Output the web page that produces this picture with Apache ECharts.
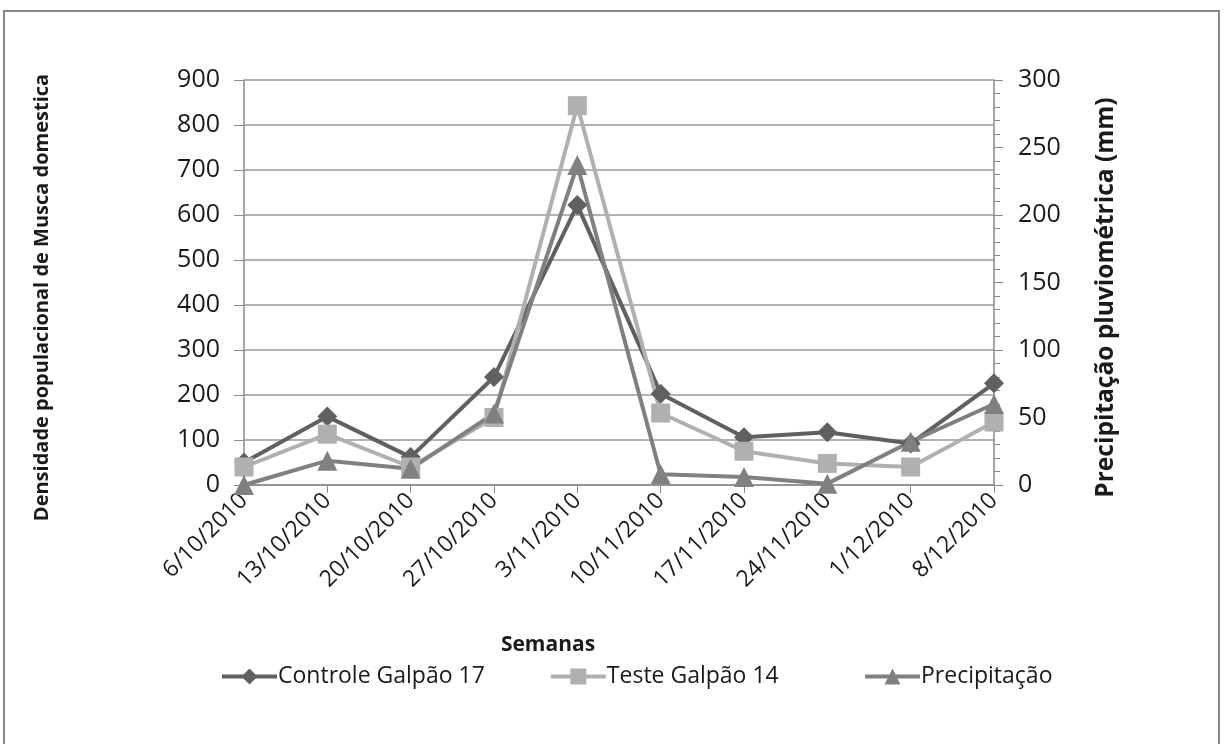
<!DOCTYPE html>
<html>
<head>
<meta charset="utf-8">
<script src="https://cdn.jsdelivr.net/npm/echarts@6/dist/echarts.min.js"></script>
<style>
html,body{margin:0;padding:0;background:#fff;}
#c{width:1224px;height:744px;}
</style>
</head>
<body>
<div id="c"></div>
<script>
const categories = ['6/10/2010','13/10/2010','20/10/2010','27/10/2010','3/11/2010','10/11/2010','17/11/2010','24/11/2010','1/12/2010','8/12/2010'];
const controle = [50, 152, 62, 240, 622, 203, 106, 117, 92, 226];
const teste = [40, 113, 40, 150, 843, 160, 75, 48, 40, 140];
const precipitacao = [0, 18, 12, 53, 237, 8, 6, 1, 32, 60];
const seriesNames = ['Controle Galpão 17', 'Teste Galpão 14', 'Precipitação'];
const leftTicks = {min: 0, max: 900, interval: 100};
const rightTicks = {min: 0, max: 300, interval: 50};

const font = '"Open Sans", "Noto Sans", sans-serif';
const legendBase = {
  top: 660, itemWidth: 55, itemHeight: 20, itemGap: 64,
  lineStyle: {width: 4},
  textStyle: {fontSize: 23, color: '#1a1a1a', fontFamily: font, padding: [0, 0, 0, -4]}
};
const chart = echarts.init(document.getElementById('c'), null, {renderer: 'canvas'});
chart.setOption({
  animation: false,
  backgroundColor: '#fff',
  textStyle: {fontFamily: font},
  graphic: [{
    type: 'rect', shape: {x: 4, y: 11, width: 1215, height: 740},
    style: {fill: 'none', stroke: '#888', lineWidth: 2}, silent: true
  }],
  grid: {left: 244, right: 230, top: 80, bottom: 259, containLabel: false},
  legend: [
    Object.assign({}, legendBase, {left: 215, data: seriesNames.slice(0, 2)}),
    Object.assign({}, legendBase, {left: 858, data: seriesNames.slice(2)})
  ],
  xAxis: {
    type: 'category', data: categories, boundaryGap: false,
    name: 'Semanas', nameLocation: 'middle', nameGap: 150,
    nameTextStyle: {fontSize: 21, fontWeight: 'bold', color: '#1a1a1a', padding: [0, 142, 0, 0]},
    axisLine: {lineStyle: {color: '#8a8a8a', width: 1.5}},
    axisTick: {show: true, alignWithLabel: true, length: 8, lineStyle: {color: '#8a8a8a'}},
    axisLabel: {rotate: 45, fontSize: 23, color: '#1a1a1a', margin: 12, interval: 0}
  },
  yAxis: [{
    type: 'value', position: 'left', min: leftTicks.min, max: leftTicks.max, interval: leftTicks.interval,
    name: 'Densidade populacional de Musca domestica', nameLocation: 'middle', nameGap: 192,
    nameTextStyle: {fontSize: 20, fontWeight: 'bold', color: '#1a1a1a', padding: [0, 30, 0, 0]},
    axisLine: {show: true, lineStyle: {color: '#8a8a8a', width: 1.5}},
    axisTick: {show: true, length: 10, lineStyle: {color: '#8a8a8a'}},
    axisLabel: {fontSize: 25, color: '#1a1a1a', margin: 24},
    splitLine: {show: true, lineStyle: {color: '#999', width: 1.5}}
  }, {
    type: 'value', position: 'right', min: rightTicks.min, max: rightTicks.max, interval: rightTicks.interval,
    name: 'Precipitação pluviométrica (mm)', nameLocation: 'middle', nameGap: 100,
    nameTextStyle: {fontSize: 24.5, fontWeight: 'bold', color: '#1a1a1a', padding: [0, 30, 0, 0]},
    axisLine: {show: true, lineStyle: {color: '#8a8a8a', width: 1.5}},
    axisTick: {show: true, length: 9, lineStyle: {color: '#8a8a8a'}},
    minorTick: {show: true, splitNumber: 5, length: 6, lineStyle: {color: '#8a8a8a'}},
    axisLabel: {fontSize: 25, color: '#1a1a1a', margin: 24},
    splitLine: {show: false}
  }],
  series: [{
    name: seriesNames[0], type: 'line', data: controle, yAxisIndex: 0,
    symbol: 'diamond', symbolSize: 20, showAllSymbol: true,
    lineStyle: {color: '#606060', width: 4}, itemStyle: {color: '#606060'}
  }, {
    name: seriesNames[1], type: 'line', data: teste, yAxisIndex: 0,
    symbol: 'rect', symbolSize: 19,
    lineStyle: {color: '#b0b0b0', width: 4}, itemStyle: {color: '#b0b0b0'}
  }, {
    name: seriesNames[2], type: 'line', data: precipitacao, yAxisIndex: 1,
    symbol: 'triangle', symbolSize: 20,
    lineStyle: {color: '#808080', width: 4}, itemStyle: {color: '#808080'}
  }]
});
</script>
</body>
</html>
